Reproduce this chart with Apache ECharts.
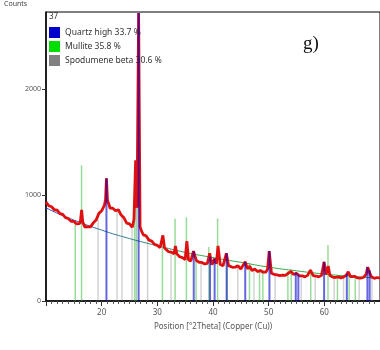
<!DOCTYPE html>
<html>
<head>
<meta charset="utf-8">
<script src="https://cdn.jsdelivr.net/npm/echarts@6/dist/echarts.min.js"></script>
<style>
  html, body { margin: 0; padding: 0; background: #fff; }
  #chart { width: 380px; height: 350px; }
</style>
</head>
<body>
<div id="chart"></div>
<script>
// measured pattern, [2theta, counts]
const observed = [
  [10, 935], [10.5, 900], [11, 890], [11.5, 862], [12, 858], [12.5, 826], [13, 818], [13.5, 788],
  [14, 779], [14.5, 752], [15, 752], [15.5, 728], [16, 730], [16.2, 760], [16.4, 860], [16.6, 745],
  [17, 698], [17.5, 702], [18, 700], [18.5, 738], [19, 765], [19.5, 828], [20, 852], [20.5, 905],
  [20.7, 960], [20.86, 1160], [21.05, 950], [21.3, 915], [21.5, 878], [22, 876], [22.5, 852],
  [23, 862], [23.5, 812], [24, 786], [24.5, 735], [25, 728], [25.5, 696], [25.8, 770], [26.1, 1330],
  [26.35, 880], [26.64, 2720], [26.9, 700], [27.2, 655], [27.5, 625], [28, 615], [28.5, 575],
  [29, 566], [29.5, 535], [30, 526], [30.5, 505], [31, 620], [31.3, 500], [31.5, 486], [32, 466],
  [32.5, 462], [33, 446], [33.25, 520], [33.5, 445], [34, 418], [34.5, 410], [35, 392], [35.3, 565],
  [35.6, 390], [36, 376], [36.5, 470], [37, 384], [37.5, 366], [38, 364], [38.5, 350], [39, 356],
  [39.4, 450], [39.8, 342], [40.3, 400], [40.6, 350], [40.9, 520], [41.3, 345], [41.8, 332],
  [42.4, 450], [42.8, 334], [43.5, 318], [44, 320], [44.5, 332], [45, 302], [45.8, 370], [46.2, 304],
  [46.6, 330], [47, 288], [47.5, 302], [48, 278], [48.5, 288], [49, 272], [49.5, 274], [49.8, 300],
  [50.1, 470], [50.5, 262], [51, 252], [51.5, 246], [52, 240], [52.5, 244], [53, 243], [53.5, 262],
  [54, 278], [54.5, 250], [55, 262], [55.5, 238], [56, 238], [56.5, 228], [57, 242], [57.5, 292],
  [58, 240], [58.5, 236], [59, 228], [59.5, 242], [59.96, 370], [60.3, 250], [60.7, 330], [61, 240],
  [61.5, 226], [62, 222], [62.5, 228], [63, 218], [63.5, 228], [64, 248], [64.3, 276], [64.7, 230],
  [65, 226], [65.5, 232], [66, 218], [66.5, 216], [67, 222], [67.5, 252], [67.8, 320], [68.2, 258],
  [68.5, 226], [69, 214], [69.5, 222], [70, 216]
];

const background = [
  [10, 880], [12, 830], [14, 785], [16, 745], [18, 705], [20, 670], [22, 635], [24, 605],
  [26, 575], [28, 548], [30, 522], [35, 460], [40, 410], [45, 365], [50, 320], [55, 285],
  [60, 255], [65, 232], [70, 215]
];

// reference sticks, [2theta, height]
const quartz = [
  [20.86, 1160], [26.64, 2720], [36.54, 470], [39.47, 420], [40.29, 400], [42.45, 450],
  [45.79, 370], [50.14, 470], [54.87, 270], [55.33, 250], [59.96, 370], [64.04, 260],
  [67.74, 320], [68.14, 290]
];
const mullite = [
  [15.3, 720], [16.43, 1280], [25.97, 1100], [26.27, 1330], [30.96, 620], [33.23, 780],
  [35.27, 790], [37.0, 400], [39.29, 510], [40.87, 780], [42.6, 400], [46.6, 360], [48.4, 300],
  [49.0, 290], [53.5, 280], [54.1, 300], [57.6, 300], [60.7, 530], [62.4, 240], [64.5, 270],
  [65.6, 240]
];
const spodumene = [
  [19.4, 800], [22.8, 850], [23.7, 800], [25.5, 720], [28.3, 590], [32.5, 460], [37.9, 370],
  [44.5, 330], [47.4, 300], [51.2, 250], [55.9, 240], [58.4, 240], [61.8, 225], [63.5, 230],
  [66.3, 220], [68.6, 225]
];

const phaseNames = ['Quartz high 33.7 %', 'Mullite 35.8 %', 'Spodumene beta 30.6 %'];
const phaseColors = ['#0000cc', '#00dd00', '#808080'];

const chart = echarts.init(document.getElementById('chart'), null, { renderer: 'canvas' });

const font = 'Noto Sans';

chart.setOption({
  animation: false,
  grid: {
    left: 46, top: 12, right: -4, bottom: 49,
    show: true, borderColor: '#000', borderWidth: 1
  },
  legend: {
    orient: 'vertical', left: 49, top: 27, padding: 0,
    itemWidth: 11, itemHeight: 11, itemGap: 3, icon: 'rect',
    textStyle: { fontFamily: font, fontSize: 8.5, color: '#333' },
    data: phaseNames.map((n, i) => ({ name: n, itemStyle: { color: phaseColors[i], opacity: 1 } }))
  },
  graphic: [
    { type: 'text', left: 4, top: 0, style: { text: 'Counts', fontFamily: font, fontSize: 7, fill: '#444' } },
    { type: 'text', left: 49, top: 13, style: { text: '37', fontFamily: font, fontSize: 8, fill: '#333' } },
    { type: 'text', left: 303, top: 35, style: { text: 'g)', fontFamily: 'Liberation Serif', fontSize: 19, fill: '#111' } }
  ],
  xAxis: {
    type: 'value', min: 10, max: 70, interval: 10,
    name: 'Position [°2Theta] (Copper (Cu))',
    nameLocation: 'middle', nameGap: 22,
    nameTextStyle: { fontFamily: font, fontSize: 8, color: '#555' },
    axisLine: { lineStyle: { color: '#000', width: 1.5 } },
    axisTick: { length: 5, lineStyle: { color: '#333' } },
    minorTick: { show: true, splitNumber: 10, length: 3, lineStyle: { color: '#555' } },
    axisLabel: {
      fontFamily: font, fontSize: 8, color: '#555', margin: 8,
      showMinLabel: false, showMaxLabel: false
    },
    splitLine: { show: false }
  },
  yAxis: {
    type: 'value', min: 0, max: 2730, interval: 1000,
    axisLine: { show: true, lineStyle: { color: '#000', width: 1.5 } },
    axisTick: { show: true, length: 4, lineStyle: { color: '#333' } },
    axisLabel: {
      fontFamily: font, fontSize: 7, color: '#555', margin: 5, showMaxLabel: false,
      formatter: v => String(v)
    },
    splitLine: { show: false }
  },
  series: [
    {
      name: phaseNames[2], type: 'bar', data: spodumene, barWidth: 1.5, barGap: '-100%', z: 1,
      itemStyle: { color: phaseColors[2], opacity: 0.35 }
    },
    {
      name: phaseNames[1], type: 'bar', data: mullite, barWidth: 1.5, barGap: '-100%', z: 1,
      itemStyle: { color: '#20b020', opacity: 0.45 }
    },
    {
      name: 'background', type: 'line', data: background, smooth: true, symbol: 'none', z: 2,
      lineStyle: {
        width: 1,
        color: new echarts.graphic.LinearGradient(0, 0, 1, 0, [
          { offset: 0, color: '#3355cc' }, { offset: 0.5, color: '#33aa44' }, { offset: 1, color: '#33aa44' }
        ])
      }
    },
    {
      name: 'observed', type: 'line', data: observed, symbol: 'none', z: 3,
      lineStyle: { width: 2.8, color: '#e01010' }
    },
    {
      name: phaseNames[0], type: 'bar', data: quartz, barWidth: 2, barGap: '-100%', z: 4,
      itemStyle: { color: phaseColors[0], opacity: 0.6 }
    }
  ]
});
</script>
</body>
</html>
